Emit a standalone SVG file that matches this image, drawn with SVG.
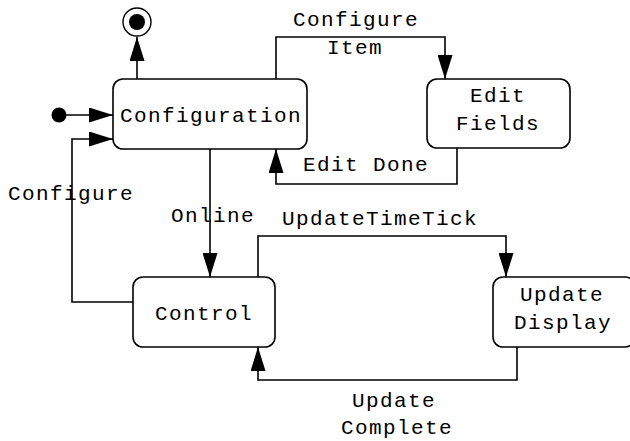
<svg xmlns="http://www.w3.org/2000/svg" width="630" height="441" viewBox="0 0 630 441">
<defs>
<style>
.box{fill:#fff;stroke:#000;stroke-width:1.6}
.ln{fill:none;stroke:#000;stroke-width:1.6}
text{font-family:"Liberation Mono","Courier New",monospace;font-size:21px;letter-spacing:1.4px;fill:#000}
</style>
<marker id="arr" viewBox="0 0 24 15" refX="24" refY="7.5" markerUnits="userSpaceOnUse" markerWidth="24" markerHeight="15" orient="auto">
<path d="M0,0 L24,7.5 L0,15 Z" fill="#000"/>
</marker>
</defs>
<rect width="630" height="441" fill="#fff"/>
<g id="connectors">
<line class="ln" x1="59" y1="115" x2="113" y2="115" marker-end="url(#arr)"/>
<line class="ln" x1="137" y1="79" x2="137" y2="37" marker-end="url(#arr)"/>
<path class="ln" d="M276,79 V37 H445 V79" marker-end="url(#arr)"/>
<path class="ln" d="M457,148 V184 H276 V149" marker-end="url(#arr)"/>
<path class="ln" d="M210,149 V277" marker-end="url(#arr)"/>
<path class="ln" d="M133,302 H72 V139 H113" marker-end="url(#arr)"/>
<path class="ln" d="M258,277 V236 H506 V277" marker-end="url(#arr)"/>
<path class="ln" d="M517,347 V380 H258 V347" marker-end="url(#arr)"/>
<text x="8" y="200">Configure</text>
<text x="171" y="222">Online</text>
<text x="293" y="26">Configure</text>
<text x="327" y="54">Item</text>
<text x="303" y="171">Edit Done</text>
<text x="282" y="225">UpdateTimeTick</text>
<text x="352" y="407">Update</text>
<text x="341" y="434">Complete</text>
</g>
<g id="initial">
<circle cx="59" cy="115" r="7.5" fill="#000"/>
</g>
<g id="final">
<circle cx="137" cy="22" r="14" fill="#fff" stroke="#000" stroke-width="1.4"/>
<circle cx="137" cy="22" r="8" fill="#000"/>
</g>
<g id="configuration">
<rect class="box" x="113" y="79" width="194" height="70" rx="10"/>
<text x="120" y="122">Configuration</text>
</g>
<g id="edit-fields">
<rect class="box" x="427" y="79" width="143" height="69" rx="10"/>
<text x="470" y="102">Edit</text>
<text x="456" y="130">Fields</text>
</g>
<g id="control">
<rect class="box" x="133" y="277" width="142" height="70" rx="10"/>
<text x="155" y="320">Control</text>
</g>
<g id="update-display">
<rect class="box" x="493" y="277" width="142" height="70" rx="10"/>
<text x="520" y="301">Update</text>
<text x="514" y="329">Display</text>
</g>
</svg>
